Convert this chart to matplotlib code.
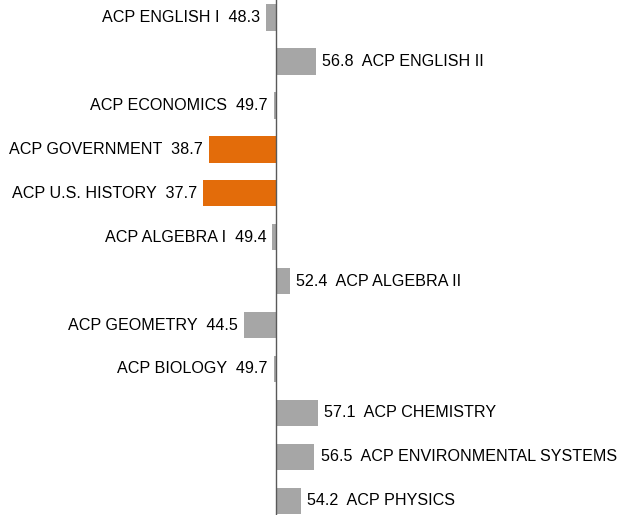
import matplotlib
matplotlib.use('Agg')
import matplotlib.pyplot as plt

# course names and scores, top to bottom
courses = ['ACP ENGLISH I', 'ACP ENGLISH II', 'ACP ECONOMICS', 'ACP GOVERNMENT',
           'ACP U.S. HISTORY', 'ACP ALGEBRA I', 'ACP ALGEBRA II', 'ACP GEOMETRY',
           'ACP BIOLOGY', 'ACP CHEMISTRY', 'ACP ENVIRONMENTAL SYSTEMS', 'ACP PHYSICS']
scores = [48.3, 56.8, 49.7, 38.7, 37.7, 49.4, 52.4, 44.5, 49.7, 57.1, 56.5, 54.2]
highlight = ['ACP GOVERNMENT', 'ACP U.S. HISTORY']
base = 50

plt.rcParams['font.family'] = ['Liberation Sans', 'DejaVu Sans']

fig = plt.figure(figsize=(6.18, 5.15), dpi=100)
ax = fig.add_axes([0, 0, 1, 1])

gray = '#a6a6a6'
orange = '#e36c0a'

for i, (name, val) in enumerate(zip(courses, scores)):
    c = orange if name in highlight else gray
    ax.barh(i, val - base, left=base, height=0.61, color=c)
    if val < base:
        ax.annotate('%s  %.1f' % (name, val), (val, i), xytext=(-4.5, 0),
                    textcoords='offset points', ha='right', va='center', fontsize=11.6)
    else:
        ax.annotate('%.1f  %s' % (val, name), (val, i), xytext=(4.5, 0),
                    textcoords='offset points', ha='left', va='center', fontsize=11.6)

ax.axvline(base, color='#595959', lw=1)
ax.set_xlim(50 - 276 / 5.9, 50 + 342 / 5.9)
ax.set_ylim(11.32, -0.39)
ax.axis('off')

fig.savefig('out.png', dpi=100)
